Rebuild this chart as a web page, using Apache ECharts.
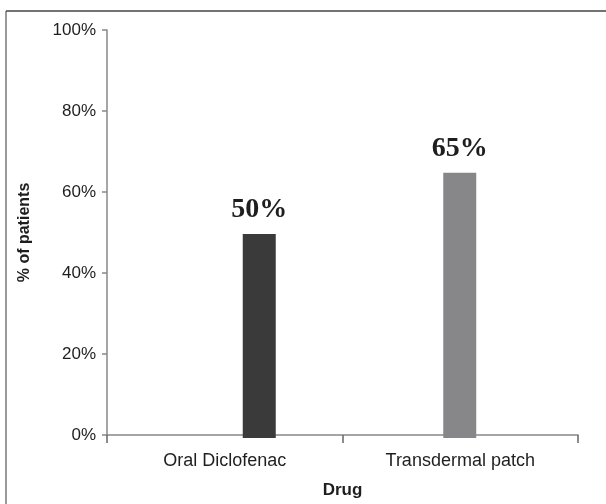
<!DOCTYPE html>
<html>
<head>
<meta charset="utf-8">
<script src="https://cdn.jsdelivr.net/npm/echarts@6/dist/echarts.min.js"></script>
<style>
  html, body { margin: 0; padding: 0; background: #fff; }
  #chart { width: 606px; height: 504px; }
</style>
</head>
<body>
<div id="chart"></div>
<script>
// Share of patients by drug
const drugs = ['Oral Diclofenac', 'Transdermal patch'];
const patientPct = [50, 65];
const barColors = ['#3a3a3a', '#87878a'];
const yTicks = [0, 20, 40, 60, 80, 100];

const sans = '"Liberation Sans", Arial, sans-serif';
const serif = '"Liberation Serif", "Times New Roman", serif';

const chart = echarts.init(document.getElementById('chart'), null, { renderer: 'canvas' });

chart.setOption({
  animation: false,
  backgroundColor: '#ffffff',
  graphic: [
    // frame: left and top edges
    { type: 'line', shape: { x1: 6, y1: 11, x2: 6, y2: 504 }, style: { stroke: '#9a9a9a', lineWidth: 2 } },
    { type: 'line', shape: { x1: 6, y1: 11, x2: 606, y2: 11 }, style: { stroke: '#444444', lineWidth: 1.5 } }
  ],
  grid: [
    // axes frame
    { left: 107, top: 30, right: 28, bottom: 66, containLabel: false },
    // bar placement area
    { left: 159, top: 30, width: 401, bottom: 66, containLabel: false }
  ],
  xAxis: [
    {
      type: 'category',
      gridIndex: 0,
      data: drugs,
      boundaryGap: true,
      name: 'Drug',
      nameLocation: 'middle',
      nameGap: 47,
      nameTextStyle: { fontFamily: sans, fontSize: 17, fontWeight: 'bold', color: '#1e1e1e' },
      axisLine: { lineStyle: { color: '#888', width: 1.5 } },
      axisTick: { show: true, length: 8, alignWithLabel: false, lineStyle: { color: '#666', width: 1.5 } },
      axisLabel: { fontFamily: sans, fontSize: 18, color: '#1e1e1e', margin: 17 },
      splitLine: { show: false }
    },
    {
      type: 'category',
      gridIndex: 1,
      data: drugs,
      show: false
    }
  ],
  yAxis: [
    {
      type: 'value',
      gridIndex: 0,
      min: yTicks[0],
      max: yTicks[yTicks.length - 1],
      interval: yTicks[1] - yTicks[0],
      name: '% of patients',
      nameLocation: 'middle',
      nameGap: 74,
      nameRotate: 90,
      nameTextStyle: { fontFamily: sans, fontSize: 16, fontWeight: 'bold', color: '#1e1e1e' },
      axisLine: { show: true, lineStyle: { color: '#888', width: 1.5 } },
      axisTick: { show: true, length: 5, lineStyle: { color: '#888', width: 1.5 } },
      axisLabel: { fontFamily: sans, fontSize: 17, color: '#1e1e1e', margin: 11, formatter: '{value}%' },
      splitLine: { show: false }
    },
    {
      type: 'value',
      gridIndex: 1,
      min: yTicks[0],
      max: yTicks[yTicks.length - 1],
      show: false
    }
  ],
  series: [
    {
      type: 'bar',
      xAxisIndex: 1,
      yAxisIndex: 1,
      barWidth: 33,
      data: patientPct.map((v, i) => ({ value: v, itemStyle: { color: barColors[i] } })),
      label: {
        show: true,
        position: 'top',
        distance: 10,
        formatter: '{c}%',
        fontFamily: serif,
        fontSize: 28,
        fontWeight: 'bold',
        color: '#1e1e1e'
      }
    }
  ]
});
</script>
</body>
</html>
